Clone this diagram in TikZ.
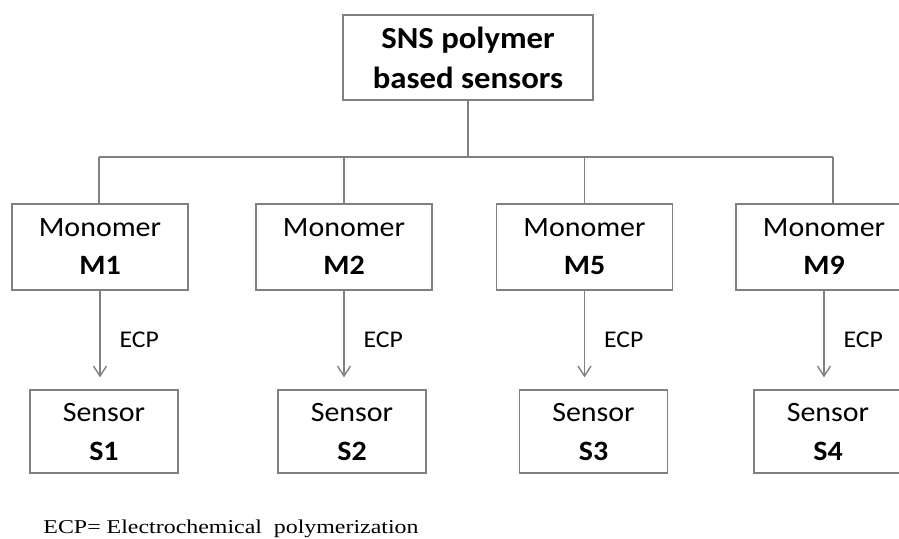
\documentclass[tikz,border=0pt]{standalone}
\usepackage{fontspec}
\setmainfont{Liberation Serif}
\newfontfamily\calib[FakeStretch=1.07]{Carlito}
\newfontfamily\notefont[FakeStretch=1.22]{Liberation Serif}
\usetikzlibrary{arrows.meta}
\definecolor{linegray}{RGB}{128,128,128}

\begin{document}
\begin{tikzpicture}[x=0.5pt,y=-0.5pt,
        box/.style={draw=linegray, line width=0.7pt, align=center, inner sep=0pt},
        monobox/.style={box, minimum width=88pt, minimum height=43pt, font=\calib\fontsize{14}{19}\selectfont},
        sensbox/.style={box, minimum width=74pt, minimum height=41.5pt, font=\calib\fontsize{14}{19.5}\selectfont},
        link/.style={draw=linegray, line width=0.7pt},
        arr/.style={link, -{Straight Barb[length=5pt,width=6.5pt]}, shorten >=6pt},
        ecp/.style={right=9.5pt, inner sep=0pt, font=\calib\fontsize{12}{14}\selectfont}]
        \useasboundingbox (0,0) rectangle (899,538);
        \node[box, minimum width=125pt, minimum height=42.5pt, font=\calib\bfseries\fontsize{15.3}{20}\selectfont] (top) at (468,57.5) {SNS polymer\\based sensors};
        \node[monobox] (m1) at (100,247) {Monomer\\\textbf{M1}};
        \node[monobox] (m2) at (344,247) {Monomer\\\textbf{M2}};
        \node[monobox] (m5) at (584.5,247) {Monomer\\\textbf{M5}};
        \node[monobox] (m9) at (824,247) {Monomer\\\textbf{M9}};
        \node[sensbox] (s1) at (104,431.5) {Sensor\\\textbf{S1}};
        \node[sensbox] (s2) at (352,431.5) {Sensor\\\textbf{S2}};
        \node[sensbox] (s3) at (593.5,431.5) {Sensor\\\textbf{S3}};
        \node[sensbox] (s4) at (828,431.5) {Sensor\\\textbf{S4}};
        \coordinate (bl) at (99,157);
        \coordinate (br) at (833,157);
        \draw[link] (bl) -- (br);
        \draw[link] (top.south) -- (top.south |- bl);
        \draw[link] (bl) -- (m1.north -| bl);
        \draw[link] (m2.north) -- (m2.north |- bl);
        \draw[link] (m5.north) -- (m5.north |- bl);
        \draw[link] (br) -- (m9.north -| br);
        \draw[arr] (m1.south) -- (m1.south |- s1.north) node[midway, ecp] {ECP};
        \draw[arr] (m2.south) -- (m2.south |- s2.north) node[midway, ecp] {ECP};
        \draw[arr] (m5.south) -- (m5.south |- s3.north) node[midway, ecp] {ECP};
        \draw[arr] (m9.south) -- (m9.south |- s4.north) node[midway, ecp] {ECP};
        \node[anchor=base west, inner sep=0pt, font=\notefont\fontsize{9.8}{12}\selectfont] (note) at (43,533) {ECP= Electrochemical\hspace{0.6em}polymerization};
    \end{tikzpicture}
\end{document}
